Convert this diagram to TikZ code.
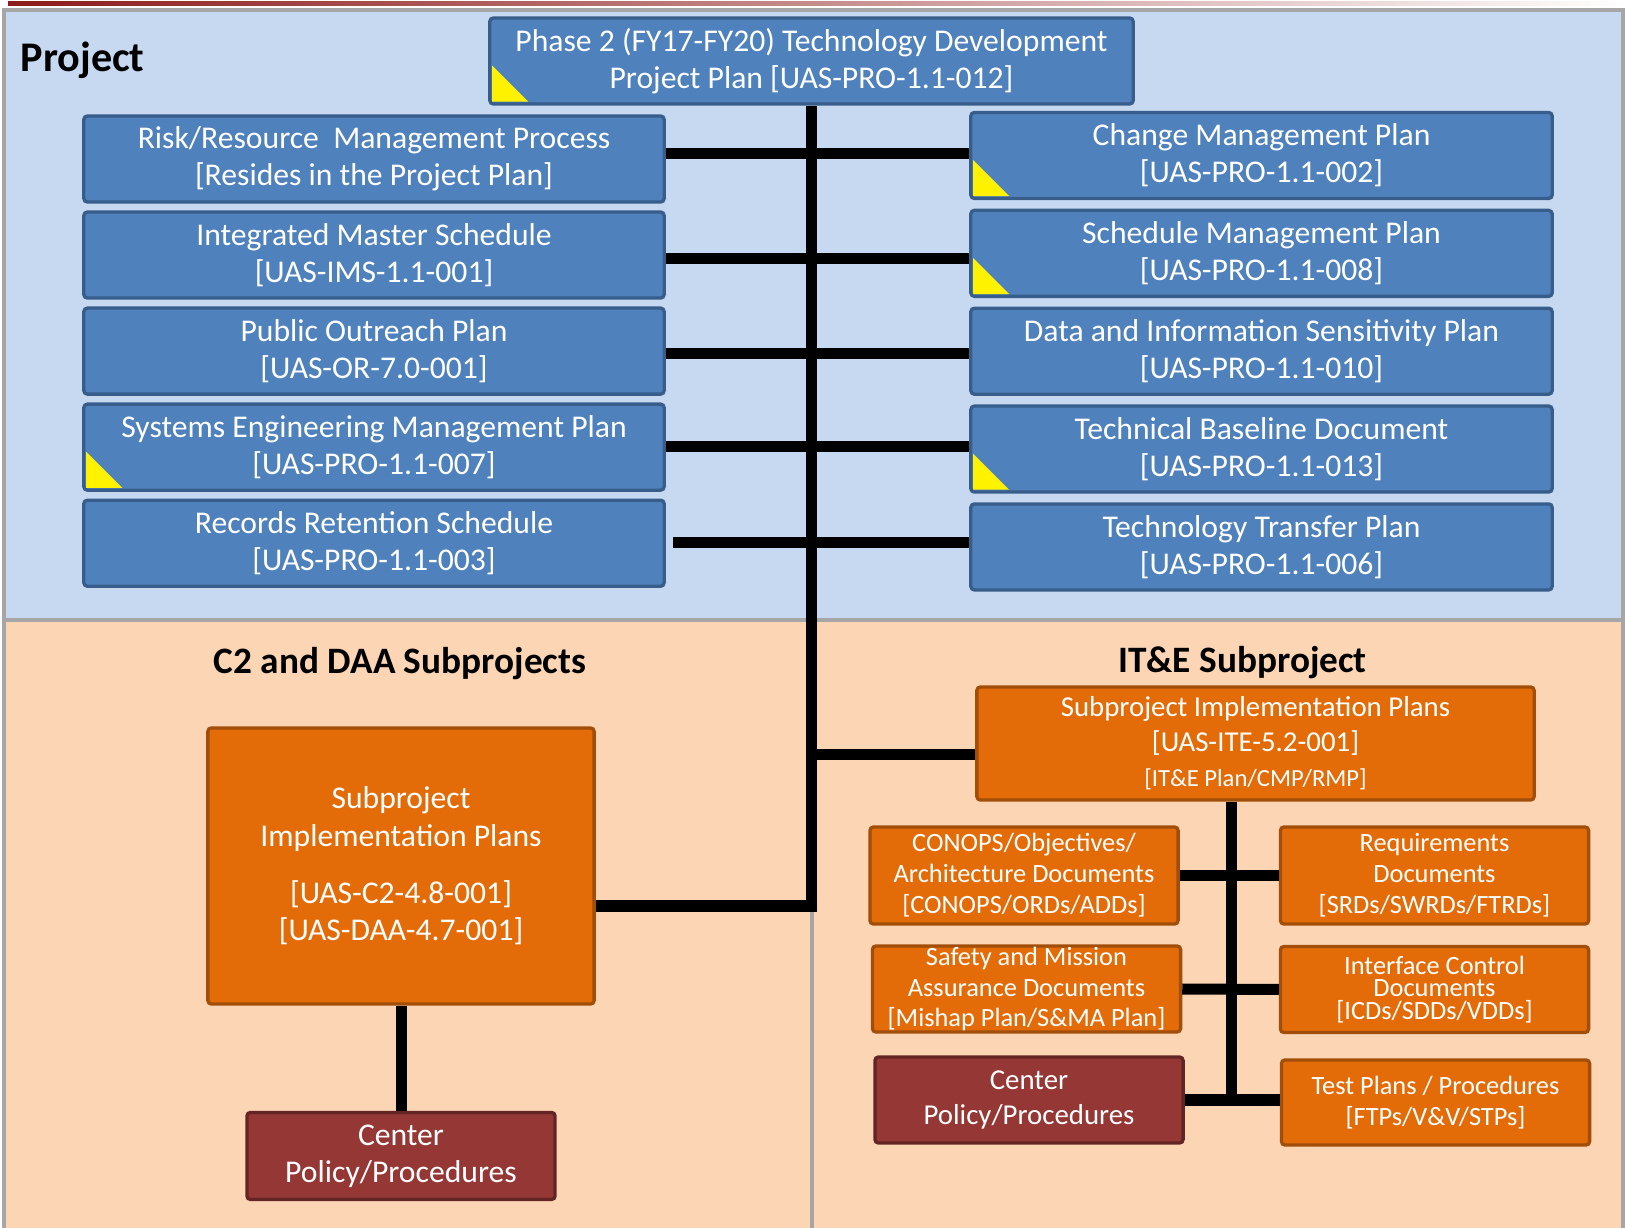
\documentclass[tikz,border=0pt]{standalone}
\usepackage{fontspec}
\setmainfont{Carlito}
\usepackage{tikz}
\usetikzlibrary{positioning,calc}
\definecolor{pblue}{HTML}{4F81BD}
\definecolor{pbluedk}{HTML}{385D8A}
\definecolor{pbg}{HTML}{C6D9F1}
\definecolor{speach}{HTML}{FCD5B5}
\definecolor{sorange}{HTML}{E36C09}
\definecolor{sorangedk}{HTML}{A04E0A}
\definecolor{cred}{HTML}{953735}
\definecolor{creddk}{HTML}{632523}
\definecolor{fgrey}{HTML}{A6A6A6}
\definecolor{topred}{HTML}{8C1A1A}

\begin{document}
\begin{tikzpicture}[x=0.01cm,y=-0.01cm,
  box/.style={rounded corners=1pt,line width=0.033cm,align=center,inner sep=0pt,text=white},
  blue/.style={box,draw=pbluedk,fill=pblue,minimum width=5.8cm,minimum height=0.86cm,
               font=\fontsize{9}{10.6}\selectfont},
  orange/.style={box,draw=sorangedk,fill=sorange},
  maroon/.style={box,draw=creddk,fill=cred},
  sub/.style={minimum width=3.08cm,minimum height=0.86cm,font=\fontsize{7.5}{8.8}\selectfont},
  link/.style={line width=0.11cm,draw=black},
  rim/.style={line width=0.04cm,draw=fgrey},
  head/.style={font=\fontsize{10.6}{12}\selectfont\bfseries,inner sep=0pt}]

\useasboundingbox (0,0) rectangle (1627,1228);

% panels
\shade[left color=topred,right color=white] (8,2) rectangle (1627,6);
\fill[pbg] (4,10) rectangle (1623,620);
\fill[speach] (4,620) rectangle (1623,1228);
\draw[rim] (4,1228) -- (4,10) -- (1623,10) -- (1623,1228);
\draw[rim] (4,620) -- (1623,620) (812,620) -- (812,1228);

\node[head,anchor=base west,font=\fontsize{12}{14}\selectfont\bfseries] (ptitle) at (20,72) {Project};
\node[head,anchor=base] (c2title) at (400,674) {C2 and DAA Subprojects};
\node[head,anchor=base] (itetitle) at (1242.5,673) {IT\&E Subproject};

% project documents
\node[blue,minimum width=6.43cm] (phase) at (811.5,61) {Phase 2 (FY17-FY20) Technology Development\\Project Plan [UAS-PRO-1.1-012]};

\node[blue] (risk) at (374,159) {Risk/Resource\ \ Management Process\\{}[Resides in the Project Plan]};
\node[blue,below=0.067cm of risk] (ims) {Integrated Master Schedule\\{}[UAS-IMS-1.1-001]};
\node[blue,below=0.067cm of ims] (outreach) {Public Outreach Plan\\{}[UAS-OR-7.0-001]};
\node[blue,below=0.067cm of outreach] (semp) {Systems Engineering Management Plan\\{}[UAS-PRO-1.1-007]};
\node[blue,below=0.067cm of semp] (records) {Records Retention Schedule\\{}[UAS-PRO-1.1-003]};

\node[blue,minimum width=5.81cm] (change) at (1261.5,155.5) {Change Management Plan\\{}[UAS-PRO-1.1-002]};
\node[blue,minimum width=5.81cm,below=0.085cm of change] (sched) {Schedule Management Plan\\{}[UAS-PRO-1.1-008]};
\node[blue,minimum width=5.81cm,below=0.085cm of sched] (sensitivity) {Data and Information Sensitivity Plan\\{}[UAS-PRO-1.1-010]};
\node[blue,minimum width=5.81cm,below=0.085cm of sensitivity] (baseline) {Technical Baseline Document\\{}[UAS-PRO-1.1-013]};
\node[blue,minimum width=5.81cm,below=0.085cm of baseline] (transfer) {Technology Transfer Plan\\{}[UAS-PRO-1.1-006]};

% C2 and DAA
\node[orange,minimum width=3.86cm,minimum height=2.76cm,font=\fontsize{9}{10.6}\selectfont] (c2) at (401,866)
  {Subproject\\Implementation Plans\\[0.2cm]{}[UAS-C2-4.8-001]\\{}[UAS-DAA-4.7-001]};
\node[maroon,minimum width=3.08cm,minimum height=0.87cm,font=\fontsize{9}{10.6}\selectfont,below=1.05cm of c2] (cpoll)
  {Center\\Policy/Procedures};

% IT&E
\node[orange,minimum width=5.57cm,minimum height=1.13cm,font=\fontsize{8.2}{10}\selectfont] (ite) at (1255.5,743.5)
  {Subproject Implementation Plans\\{}[UAS-ITE-5.2-001]\\{\fontsize{7}{8}\selectfont[IT\&E Plan/CMP/RMP]}};
\node[orange,sub,minimum height=0.97cm] (conops) at (1024,875.5) {CONOPS/Objectives/\\Architecture Documents\\{}[CONOPS/ORDs/ADDs]};
\node[orange,sub,minimum height=0.97cm] (req) at (1434.5,875.5) {Requirements\\Documents\\{}[SRDs/SWRDs/FTRDs]};
\node[orange,sub] (safety) at (1026.5,989) {Safety and Mission\\Assurance Documents\\{}[Mishap Plan/S\&MA Plan]};
\node[orange,sub,font=\fontsize{7.5}{6.4}\selectfont] (iface) at (1434.5,989.5) {Interface Control\\Documents\\{}[ICDs/SDDs/VDDs]};
\node[maroon,sub,font=\fontsize{8.2}{10.2}\selectfont] (cpolr) at (1029,1100) {Center\\Policy/Procedures};
\node[orange,sub,minimum height=0.85cm] (tests) at (1435.5,1102.5) {Test Plans / Procedures\\{}[FTPs/V\&V/STPs]};

% connectors
\coordinate (c2jn) at ($(c2.east)+(0,40)$);
\draw[link] (c2jn) -| (phase.south);
\coordinate (itejn) at ($(ite.west)+(0,11)$);
\draw[link] (itejn) -- (itejn -| phase.south);
\foreach \a/\b/\dy/\dx in {risk/change/-5.5/0,ims/sched/3.5/0,outreach/sensitivity/2.5/0,
                           semp/baseline/-0.5/0,records/transfer/-0.5/7}{
  \coordinate (jn) at ($(\a.east)+(\dx,\dy)$);
  \draw[link] (jn) -- (jn -| \b.west);
}
\draw[link] (c2.south) -- (cpoll.north);

\coordinate (spine) at ($(ite.south)+(-24.5,0)$);
\draw[link] (spine) -- (spine |- cpolr.east);
\draw[link] (conops.east) -- (req.west);
\draw[link] (safety.east) -- (iface.west);
\draw[link] (cpolr.east) -- (cpolr.east -| tests.west);

% review flags
\foreach \n in {phase,change,sched,baseline,semp}
  \fill[yellow] ($(\n.south west)+(4,-4)$) -- ++(0,-36) -- ++(36,36) -- cycle;
\end{tikzpicture}
\end{document}
